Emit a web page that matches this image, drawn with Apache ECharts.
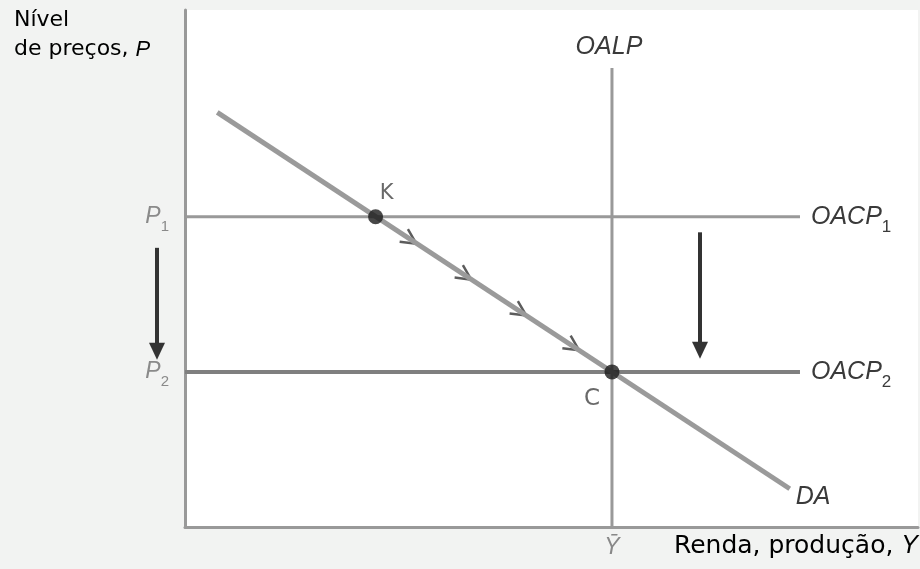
<!DOCTYPE html>
<html><head><meta charset="utf-8">
<script src="https://cdn.jsdelivr.net/npm/echarts@6/dist/echarts.min.js"></script>
<style>html,body{margin:0;padding:0;background:#f2f3f2}#c{width:920px;height:569px}</style>
</head><body><div id="c"></div>
<script>
// Data (abstract units: x 0..100, y 0..100)
const yBar = 58.25;            // long-run output (OALP position)
const pLevels = [60, 30];      // P1, P2
const pLabels = ['P1', 'P2'];
const horizEndX = 83.9;
const oalpTop = 88.8;
const daLine = [[4.4, 80.2], [82.5, 7.4]];
const pointK = [26, 60];
const pointC = [58.25, 30];
const chevrons = [[30.7, 55.6], [38.2, 48.65], [45.7, 41.7], [52.9, 35.0]];
const leftArrow = [[0.5, 54.0], [0.5, 34.0]];     // drawn in the narrow left margin grid
const rightArrow = [[70.26, 57.0], [70.26, 34.2]];

const sub = (main, s) => `{a|${main}}{b|${s}}`;
const richSub = (size, color) => ({
  a: {fontFamily: 'Liberation Sans', fontStyle: 'italic', fontSize: size, color: color},
  b: {fontFamily: 'Liberation Sans', fontSize: Math.round(size * 0.66), color: color, padding: [Math.round(size * 0.85), 0, 0, 0]}
});
const italicLbl = {fontFamily: 'Liberation Sans', fontStyle: 'italic', fontSize: 25, color: '#3a3a3a'};

const chart = echarts.init(document.getElementById('c'));
const lineSeries = (data, color, width) => ({
  type: 'line', data: data, symbol: 'circle', symbolSize: 0, showSymbol: true,
  silent: true, animation: false,
  itemStyle: {color: color},
  lineStyle: {color: color, width: width}
});

const arrowSeries = (pts, axisIdx) => ({
  type: 'line', xAxisIndex: axisIdx, yAxisIndex: axisIdx, clip: false,
  animation: false, silent: true, showSymbol: true,
  lineStyle: {color: '#333', width: 4},
  itemStyle: {color: '#333'},
  data: [
    {value: pts[0], symbol: 'none'},
    {value: pts[1], symbol: 'triangle', symbolSize: [16, 17], symbolRotate: 180}
  ]
});

const hiddenAxis = {type: 'value', min: 0, max: 100, show: false};

chart.setOption({
  backgroundColor: '#f2f3f2',
  animation: false,
  grid: [
    {left: 185, top: 10, right: 2, bottom: 42, show: true, backgroundColor: '#ffffff', borderWidth: 0},
    {left: 147, top: 10, width: 20, bottom: 42, show: false}
  ],
  xAxis: [{
    type: 'value', min: 0, max: 100, gridIndex: 0,
    axisLine: {show: true, lineStyle: {color: '#999', width: 3}},
    axisTick: {show: false}, splitLine: {show: false},
    axisLabel: {
      customValues: [yBar], margin: 9,
      formatter: () => 'Ȳ',
      fontFamily: 'Liberation Sans', fontStyle: 'italic', fontSize: 23, color: '#888'
    }
  }, {type: 'value', min: 0, max: 1, gridIndex: 1, show: false}],
  yAxis: [{
    type: 'value', min: 0, max: 100, gridIndex: 0,
    axisLine: {show: true, lineStyle: {color: '#999', width: 3}},
    axisTick: {show: false}, splitLine: {show: false},
    axisLabel: {
      customValues: pLevels, margin: 16,
      formatter: (v) => { const i = pLevels.indexOf(v); return sub('P', pLabels[i].slice(1)); },
      rich: richSub(23, '#8a8a8a')
    }
  }, Object.assign({gridIndex: 1}, hiddenAxis)],
  graphic: [
    {type: 'text', left: 14, top: 6, style: {
      text: '{t|Nível}\n{t|de preços, }{i|P}', lineHeight: 29,
      rich: {t: {fontFamily: 'DejaVu Sans', fontSize: 22, color: '#555', lineHeight: 29},
             i: {fontFamily: 'Liberation Sans', fontStyle: 'italic', fontSize: 22, color: '#555', lineHeight: 29}}
    }},
    {type: 'text', right: 2, top: 534, style: {
      text: '{t|Renda, produção, }{i|Y}',
      rich: {t: {fontFamily: 'DejaVu Sans', fontSize: 25, color: '#555'},
             i: {fontFamily: 'Liberation Sans', fontStyle: 'italic', fontSize: 25, color: '#555'}}
    }}
  ],
  series: [
    lineSeries([[yBar, 0], {value: [yBar, oalpTop], label: Object.assign({show: true, position: 'top', distance: 8, offset: [-3, 0], formatter: 'OALP'}, italicLbl)}], '#999', 3),
    lineSeries([[0, pLevels[0]], {value: [horizEndX, pLevels[0]], label: {show: true, position: 'right', distance: 11, formatter: sub('OACP', '1'), rich: richSub(25, '#3a3a3a')}}], '#999', 3),
    lineSeries([[0, pLevels[1]], {value: [horizEndX, pLevels[1]], label: {show: true, position: 'right', distance: 11, formatter: sub('OACP', '2'), rich: richSub(25, '#3a3a3a')}}], '#7f7f7f', 4),
    lineSeries([daLine[0], {value: daLine[1], label: Object.assign({show: true, position: 'right', distance: 6, offset: [0, 8], formatter: 'DA'}, italicLbl)}], '#9a9a9a', 5),
    {
      type: 'scatter', silent: true, animation: false,
      symbol: 'path://M0,0 L12,6 L0,12', symbolSize: [15, 15], symbolRotate: -33.5,
      itemStyle: {color: 'none', borderColor: '#333', borderWidth: 2.5},
      data: chevrons
    },
    arrowSeries(leftArrow, 1),
    arrowSeries(rightArrow, 0),
    {
      type: 'scatter', silent: true, animation: false, symbolSize: 15, z: 5,
      itemStyle: {color: '#1a1a1a'},
      data: [
        {value: pointK, label: {show: true, formatter: 'K', position: 'top', offset: [11, 0], fontFamily: 'DejaVu Sans', fontSize: 21, color: '#444'}},
        {value: pointC, label: {show: true, formatter: 'C', position: 'bottom', offset: [-20, 3], fontFamily: 'DejaVu Sans', fontSize: 23, color: '#444'}}
      ]
    }
  ]
});
</script></body></html>
